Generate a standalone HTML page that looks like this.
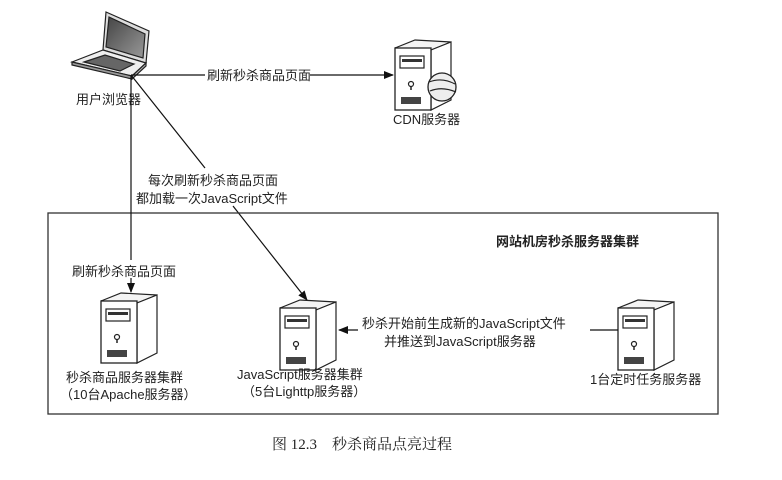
<!DOCTYPE html>
<html><head><meta charset="utf-8"><style>
body{margin:0;background:#fff;}
svg text{font-family:"Liberation Sans","Noto Sans CJK SC",sans-serif;font-size:13px;fill:#222;}
</style></head><body>
<svg width="782" height="475" viewBox="0 0 782 475" xmlns="http://www.w3.org/2000/svg">
<defs>
<marker id="ar" markerWidth="10" markerHeight="8" refX="9" refY="4" orient="auto" markerUnits="userSpaceOnUse">
<path d="M0,0 L10,4 L0,8 z" fill="#111"/></marker>
<linearGradient id="sg" x1="0" y1="0" x2="1" y2="1"><stop offset="0" stop-color="#444"/><stop offset="1" stop-color="#999"/></linearGradient>
<g id="srv">
<path d="M0,8 L20,0 L56,2 L36,10 z" fill="#f4f4f4" stroke="#222" stroke-width="1.2"/>
<path d="M36,10 L56,2 L56,60 L36,70 z" fill="#fff" stroke="#222" stroke-width="1.2"/>
<rect x="0" y="8" width="36" height="62" fill="#fff" stroke="#222" stroke-width="1.3"/>
<rect x="5" y="16" width="24" height="12" fill="#fff" stroke="#222" stroke-width="1.2"/>
<rect x="7" y="19" width="20" height="3" fill="#333"/>
<circle cx="16" cy="44" r="2.5" fill="none" stroke="#222" stroke-width="1.2"/>
<line x1="16" y1="46" x2="16" y2="50" stroke="#222" stroke-width="1.5"/>
<rect x="6" y="57" width="20" height="7" fill="#444"/>
</g>
</defs>
<!-- laptop -->
<g stroke="#222" stroke-width="1.2">
<path d="M106,12 L149,31 L146,63 L103,50 z" fill="#ddd"/>
<path d="M109,17 L145,34 L143,58 L106,47 z" fill="url(#sg)"/>
<path d="M72,62 L103,50 L146,63 L132,76 z" fill="#eee"/>
<path d="M84,62 L105,55 L134,64 L120,71 z" fill="#666"/>
<path d="M72,62 L132,76 L132,79 L72,65 z" fill="#999"/>
<path d="M132,76 L146,63 L146,66 L132,79 z" fill="#bbb"/>
</g>
<text x="76" y="104">用户浏览器</text>
<use href="#srv" x="395" y="40"/>
<circle cx="442" cy="87" r="14" fill="#eee" stroke="#222" stroke-width="1.3"/>
<path d="M429,82 Q442,77 455,84 M430,91 Q442,86 456,92" fill="none" stroke="#222" stroke-width="1.2"/>
<text x="393" y="124">CDN服务器</text>
<line x1="131" y1="75" x2="205" y2="75" stroke="#111" stroke-width="1.2"/>
<line x1="310" y1="75" x2="393" y2="75" stroke="#111" stroke-width="1.2" marker-end="url(#ar)"/>
<text x="207" y="80">刷新秒杀商品页面</text>
<line x1="131" y1="75" x2="205" y2="168" stroke="#111" stroke-width="1.2"/>
<line x1="233" y1="206" x2="307" y2="300" stroke="#111" stroke-width="1.2" marker-end="url(#ar)"/>
<rect x="48" y="213" width="670" height="201" fill="none" stroke="#333" stroke-width="1.3"/>
<line x1="131" y1="75" x2="131" y2="260" stroke="#111" stroke-width="1.2"/>
<line x1="131" y1="278" x2="131" y2="292" stroke="#111" stroke-width="1.2" marker-end="url(#ar)"/>
<text x="148" y="185">每次刷新秒杀商品页面</text>
<text x="136" y="203">都加载一次JavaScript文件</text>
<text x="496" y="246" style="font-weight:bold">网站机房秒杀服务器集群</text>
<text x="72" y="276">刷新秒杀商品页面</text>
<use href="#srv" x="101" y="293"/>
<use href="#srv" x="280" y="300"/>
<use href="#srv" x="618" y="300"/>
<line x1="618" y1="330" x2="590" y2="330" stroke="#111" stroke-width="1.2"/>
<line x1="358" y1="330" x2="339" y2="330" stroke="#111" stroke-width="1.2" marker-end="url(#ar)"/>
<text x="362" y="328">秒杀开始前生成新的JavaScript文件</text>
<text x="384" y="346">并推送到JavaScript服务器</text>
<text x="66" y="382">秒杀商品服务器集群</text>
<text x="60" y="399">（10台Apache服务器）</text>
<text x="237" y="379">JavaScript服务器集群</text>
<text x="242" y="396">（5台Lighttp服务器）</text>
<text x="590" y="384">1台定时任务服务器</text>
<text x="272" y="449" style="font-family:'Liberation Serif','Noto Serif CJK SC',serif;font-size:15px">图 12.3　秒杀商品点亮过程</text>
</svg>
</body></html>
